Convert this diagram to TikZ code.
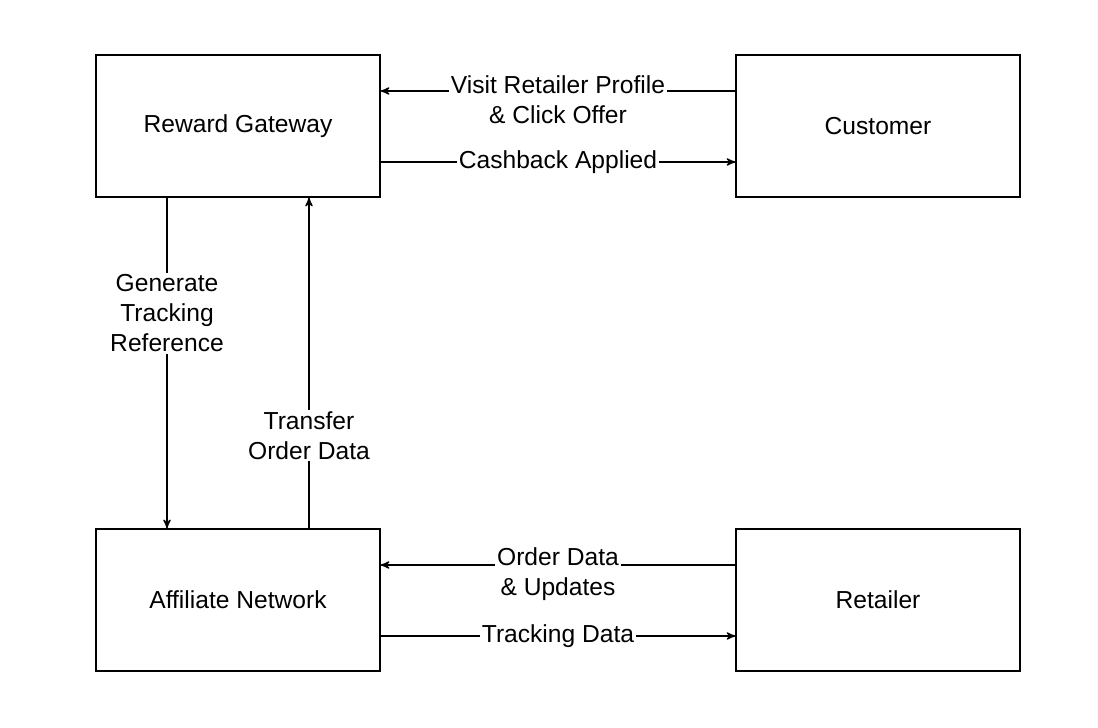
\documentclass[tikz,border=0pt]{standalone}
\usepackage{fontspec}
\setmainfont{Liberation Sans}
\usetikzlibrary{positioning,arrows}
\tikzset{block/.style={draw,thick,minimum width=5.68cm,minimum height=2.84cm,font=\fontsize{14}{17}\selectfont}}
\tikzset{flow/.style={->,>=stealth',thick}}
\tikzset{tag/.style={fill=white,align=center,inner sep=1pt,font=\fontsize{14}{17}\selectfont}}

\begin{document}
\begin{tikzpicture}
  \useasboundingbox (0,0) rectangle (21.96,14.56);
  \node[block] (rg) at (4.76,12.04) {Reward Gateway};
  \node[block] (cu) at (17.56,12.04) {Customer};
  \node[block] (an) at (4.76,2.56) {Affiliate Network};
  \node[block] (re) at (17.56,2.56) {Retailer};
  \draw[flow] ([yshift=0.7cm]cu.west) -- node[tag,yshift=-0.18cm]{Visit Retailer Profile\\\& Click Offer} ([yshift=0.7cm]rg.east);
  \draw[flow] ([yshift=-0.72cm]rg.east) -- node[tag]{Cashback Applied} ([yshift=-0.72cm]cu.west);
  \draw[flow] ([yshift=0.7cm]re.west) -- node[tag,yshift=-0.18cm]{Order Data\\\& Updates} ([yshift=0.7cm]an.east);
  \draw[flow] ([yshift=-0.72cm]an.east) -- node[tag]{Tracking Data} ([yshift=-0.72cm]re.west);
  \draw[flow] ([xshift=-1.42cm]rg.south) -- node[tag,pos=0.35]{Generate\\Tracking\\Reference} ([xshift=-1.42cm]an.north);
  \draw[flow] ([xshift=1.42cm]an.north) -- node[tag,pos=0.28]{Transfer\\Order Data} ([xshift=1.42cm]rg.south);
\end{tikzpicture}
\end{document}
